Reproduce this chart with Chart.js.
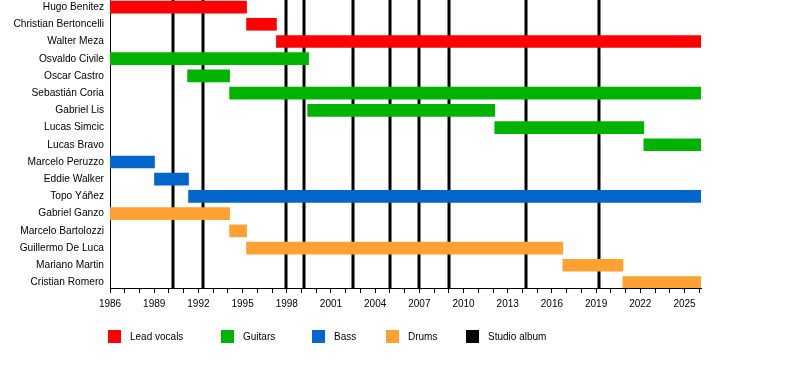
<!DOCTYPE html>
<html><head><meta charset="utf-8">
<script src="https://cdn.jsdelivr.net/npm/chart.js@4/dist/chart.umd.min.js"></script>
<style>
html,body{margin:0;padding:0;background:#fff;}
#wrap{position:relative;width:800px;height:368px;overflow:hidden;}
canvas{position:absolute;left:0;top:0;}
#legend{position:absolute;left:0;top:330px;width:800px;height:20px;font:10px "Liberation Sans",Arial,sans-serif;color:#000;}
.item{position:absolute;top:0;height:13px;white-space:nowrap;}
.sw{position:absolute;left:0;top:0;width:13px;height:13px;}
.lbl{position:absolute;left:22px;top:0;line-height:14px;}
</style></head><body>
<div id="wrap"><canvas id="c" width="800" height="368"></canvas><div id="legend"></div></div>
<script>
// ---- data ----
const members = ['Hugo Benitez','Christian Bertoncelli','Walter Meza','Osvaldo Civile','Oscar Castro','Sebastián Coria','Gabriel Lis','Lucas Simcic','Lucas Bravo','Marcelo Peruzzo','Eddie Walker','Topo Yáñez','Gabriel Ganzo','Marcelo Bartolozzi','Guillermo De Luca','Mariano Martin','Cristian Romero'];
const memberRole = [0,0,0,1,1,1,1,1,1,2,2,2,3,3,3,3,3];
const startYears = [1986,1995.27,1997.3,1986,1991.27,1994.12,1999.42,2012.12,2022.24,1986,1989.02,1991.33,1986,1994.12,1995.27,2016.74,2020.82];
const endYears   = [1995.27,1997.3,2026.12,1999.48,1994.12,2026.12,2012.12,2022.24,2026.12,1989.02,1991.33,2026.12,1994.12,1995.27,2016.74,2020.82,2026.12];
const roles = ['Lead vocals','Guitars','Bass','Drums'];
const roleColors = ['#FF0000','#00B300','#0066CC','#FFA033'];
const albumLabel = 'Studio album';
const albumColor = '#000000';
const albumYears = [1990.27,1992.3,1997.92,1999.14,2002.5,2005.04,2006.96,2009.0,2014.23,2019.17];
const timelineStart = 1986, timelineEnd = 2026.12;
const tickLabels = ['1986','1989','1992','1995','1998','2001','2004','2007','2010','2013','2016','2019','2022','2025'];
// legend column positions (layout)
const legendLefts = [108,221,312,386,466];

const FONT = '"Liberation Sans", Arial, sans-serif';

const datasets = roles.map((r, ri) => ({
  label: r,
  backgroundColor: roleColors[ri],
  borderWidth: 0,
  barThickness: 12,
  grouped: false,
  data: members.map((m, i) => memberRole[i] === ri ? {x:[startYears[i], endYears[i]], y:i} : null).filter(Boolean)
}));

const albumLines = {
  id: 'albumLines',
  beforeDatasetsDraw(chart) {
    const {ctx, chartArea:{top,bottom}, scales:{x}} = chart;
    ctx.save();
    ctx.strokeStyle = albumColor; ctx.lineWidth = 3;
    albumYears.forEach(yr => {
      const px = Math.round(x.getPixelForValue(yr));
      ctx.beginPath(); ctx.moveTo(px, top); ctx.lineTo(px, bottom); ctx.stroke();
    });
    ctx.restore();
  }
};

new Chart(document.getElementById('c'), {
  type: 'bar',
  data: { datasets },
  plugins: [albumLines],
  options: {
    indexAxis: 'y',
    responsive: false,
    animation: false,
    devicePixelRatio: 1,
    layout: { padding: { left: 0, right: 99, top: 0, bottom: 0 } },
    plugins: { legend: { display: false }, tooltip: { enabled: false } },
    scales: {
      x: {
        type: 'linear', position: 'bottom', offset: false,
        min: timelineStart, max: timelineEnd,
        afterBuildTicks: s => {
          const t = [];
          for (let v = timelineStart; v <= Math.floor(timelineEnd); v++) t.push({value: v});
          s.ticks = t;
        },
        afterFit: s => { s.height = 80; s.paddingLeft = 0; s.paddingRight = 0; },
        ticks: {
          autoSkip: false, maxRotation: 0, padding: 5, color: '#000',
          font: { family: FONT, size: 10 },
          callback: v => tickLabels.includes(String(v)) ? String(v) : ''
        },
        grid: { display: true, drawOnChartArea: false, drawTicks: true, tickLength: 5, color: '#000', lineWidth: 1 },
        border: { display: true, color: '#000', width: 1 }
      },
      y: {
        type: 'linear', position: 'left', reverse: true, offset: false,
        min: -0.41, max: 16.32,
        afterBuildTicks: s => { s.ticks = members.map((_, i) => ({value: i})); },
        afterFit: s => { s.width = 110; s.paddingTop = 0; s.paddingBottom = 0; },
        ticks: {
          autoSkip: false, padding: 6, color: '#000',
          font: { family: FONT, size: 10.2 },
          callback: v => members[v]
        },
        grid: { display: false, drawTicks: false, offset: false },
        border: { display: true, color: '#000', width: 1 }
      }
    }
  }
});

// HTML legend built from the data arrays
const legendItems = roles.map((r, i) => [r, roleColors[i]]).concat([[albumLabel, albumColor]]);
const lg = document.getElementById('legend');
legendItems.forEach(([name, col], i) => {
  const d = document.createElement('div');
  d.className = 'item'; d.style.left = legendLefts[i] + 'px';
  d.innerHTML = '<span class="sw" style="background:' + col + '"></span><span class="lbl"></span>';
  d.querySelector('.lbl').textContent = name;
  lg.appendChild(d);
});
</script>
</body></html>
